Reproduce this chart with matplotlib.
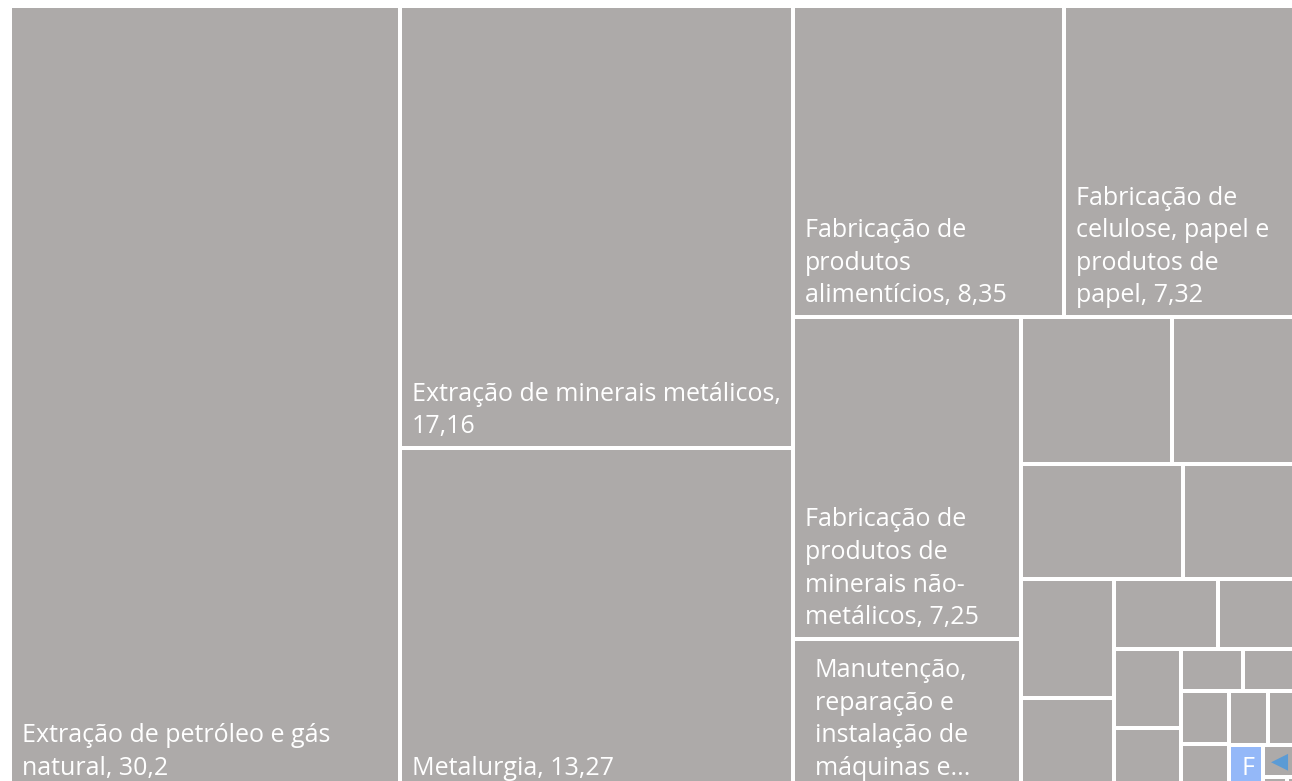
import matplotlib.pyplot as plt
from matplotlib.patches import Rectangle

# share of each activity (%), largest first
values = [30.2, 17.16, 13.27, 8.35, 7.32, 7.25, 3.40,
          2.19, 1.88, 1.83, 1.35, 1.10, 0.84, 0.72, 0.58,
          0.53, 0.41, 0.26, 0.25, 0.25, 0.22, 0.21, 0.18,
          0.15, 0.12, 0.03, 0.02]
labels = ['Extração de petróleo e gás\nnatural, 30,2',
          'Extração de minerais metálicos,\n17,16',
          'Metalurgia, 13,27',
          'Fabricação de\nprodutos\nalimentícios, 8,35',
          'Fabricação de\ncelulose, papel e\nprodutos de\npapel, 7,32',
          'Fabricação de\nprodutos de\nminerais não-\nmetálicos, 7,25',
          'Manutenção,\nreparação e\ninstalação de\nmáquinas e...',
          '', '', '', '', '', '', '', '', '', '', '', '', '', '', '', '',
          'F', '', '', '']
highlight = 23
arrow_tile = 24

gray = '#adaaa9'
blue = '#94b8f8'


def worst(row, side):
    s = sum(row)
    return max(max(side * side * r / (s * s), s * s / (side * side * r)) for r in row)


def squarify(areas, x, y, dx, dy):
    rects = []
    areas = list(areas)
    while areas:
        side = min(dx, dy)
        row = [areas[0]]
        i = 1
        while i < len(areas) and worst(row + [areas[i]], side) <= worst(row, side):
            row.append(areas[i])
            i += 1
        s = sum(row)
        if dx >= dy:
            cw = s / dy
            yy = y
            for r in row:
                h = r / cw
                rects.append((x, yy, cw, h))
                yy += h
            x += cw
            dx -= cw
        else:
            rh = s / dx
            xx = x
            for r in row:
                w = r / rh
                rects.append((xx, y, w, rh))
                xx += w
            y += rh
            dy -= rh
        areas = areas[i:]
    return rects


# full treemap box in pixel units, the picture shows only part of it
X0, Y0, W, H = 10, 6, 1292, 784
tot = sum(values)
areas = [v / tot * W * H for v in values]
rects = squarify(areas, X0, Y0, W, H)

fig = plt.figure(figsize=(12.92, 7.81), dpi=100)
ax = fig.add_axes([0, 0, 1, 1])
ax.set_xlim(0, 1292)
ax.set_ylim(781, 0)
ax.axis('off')

g = 2  # half of the white gap
for i, (x, y, w, h) in enumerate(rects):
    c = blue if i == highlight else gray
    ax.add_patch(Rectangle((x + g, y + g), w - 2 * g, h - 2 * g, fc=c, ec='none'))
    if labels[i]:
        pad = 20 if labels[i].endswith('...') else 10
        ax.text(x + g + pad, y + h - g - 7, labels[i], color='white',
                fontsize=18, family='Open Sans', ha='left', va='bottom',
                linespacing=1.40)
    if i == arrow_tile:
        ax.text(x + g + 6, y + g + 14, '\u25c0', color='#5b9bd5',
                fontsize=16, family='DejaVu Sans', ha='left', va='center')

fig.savefig('out.png', dpi=100)
